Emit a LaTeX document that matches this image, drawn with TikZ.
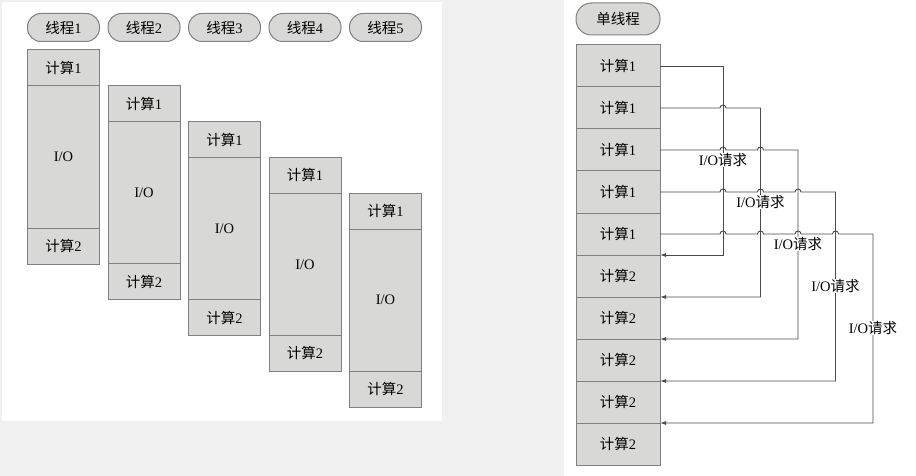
\documentclass[tikz,border=0pt]{standalone}
\usepackage{fontspec}
\setmainfont{Liberation Serif}
\newfontfamily\cjk{Noto Sans CJK SC}
\usetikzlibrary{positioning,arrows.meta}

\definecolor{boxgray}{HTML}{D8D9D7}
\definecolor{edgegray}{HTML}{808080}
\definecolor{linegray}{HTML}{4A4A4A}
\definecolor{pagegray}{HTML}{F0F0F0}
\newcommand{\cn}[1]{{\cjk #1}}

\tikzset{
  cell/.style={draw=edgegray, fill=boxgray, line width=1pt, minimum width=72pt,
    inner sep=0pt, outer sep=0pt, font=\fontsize{14.5}{16}\selectfont},
  pill/.style={cell, rounded corners=13.5pt, minimum height=28pt},
  link/.style={draw=linegray, line width=0.9pt, -{Latex[length=6pt,width=4pt]}},
  tag/.style={fill=white, inner sep=0.5pt, font=\fontsize{14.5}{16}\selectfont}
}

\begin{document}
\begin{tikzpicture}[x=1pt, y=-1pt]
  \useasboundingbox (0,0) rectangle (916,476);
  \fill[pagegray] (0,0) rectangle (916,476);
  % panels
  \fill[white] (2,2) rectangle (442,421);
  \fill[white] (564,0) rectangle (916,476);

  % five threads
  \foreach \k in {1,...,5} {
    \node[pill] (t\k) at ({63.5+80.5*(\k-1)},27.5) {\cn{线程}\k};
    \node[cell, minimum height=36pt, anchor=north] (a\k) at ({63.5+80.5*(\k-1)},{50+35.8*(\k-1)}) {\cn{计算}1};
    \node[cell, minimum height=142pt, below=0pt of a\k] (b\k) {I/O};
    \node[cell, minimum height=36pt, below=0pt of b\k] (c\k) {\cn{计算}2};
  }

  % single thread
  \node[pill, minimum width=84pt, minimum height=32pt, rounded corners=15.5pt] (single) at (618,19) {\cn{单线程}};
  \foreach \i in {1,...,10}
    \node[cell, minimum width=84pt, minimum height=42pt] (s\i) at (618,{66+42*(\i-1)}) {\cn{计算}\ifnum\i<6 1\else 2\fi};
  \foreach \i in {1,...,5}
    \coordinate (v\i) at ({723+37.5*(\i-1)},45);

  % requests
  \draw[link] (s1.east) -- (v1 |- s1.east) |- (s6.north east);
  \draw[link] (s2.east) -- ([xshift=-3pt]v1 |- s2.east) arc[start angle=180, end angle=360, radius=3]
    -- (v2 |- s2.east) |- (s7.north east);
  \draw[link] (s3.east) -- ([xshift=-3pt]v1 |- s3.east) arc[start angle=180, end angle=360, radius=3]
    -- ([xshift=-3pt]v2 |- s3.east) arc[start angle=180, end angle=360, radius=3]
    -- (v3 |- s3.east) |- (s8.north east);
  \draw[link] (s4.east) -- ([xshift=-3pt]v1 |- s4.east) arc[start angle=180, end angle=360, radius=3]
    -- ([xshift=-3pt]v2 |- s4.east) arc[start angle=180, end angle=360, radius=3]
    -- ([xshift=-3pt]v3 |- s4.east) arc[start angle=180, end angle=360, radius=3]
    -- (v4 |- s4.east) |- (s9.north east);
  \draw[link] (s5.east) -- ([xshift=-3pt]v1 |- s5.east) arc[start angle=180, end angle=360, radius=3]
    -- ([xshift=-3pt]v2 |- s5.east) arc[start angle=180, end angle=360, radius=3]
    -- ([xshift=-3pt]v3 |- s5.east) arc[start angle=180, end angle=360, radius=3]
    -- ([xshift=-3pt]v4 |- s5.east) arc[start angle=180, end angle=360, radius=3]
    -- (v5 |- s5.east) |- (s10.north east);

  \foreach \i in {1,...,5} {
    \pgfmathtruncatemacro\r{\i+2}
    \node[tag] (q\i) at ([yshift=-10pt]v\i |- s\r) {I/O\cn{请求}};
  }
\end{tikzpicture}
\end{document}
